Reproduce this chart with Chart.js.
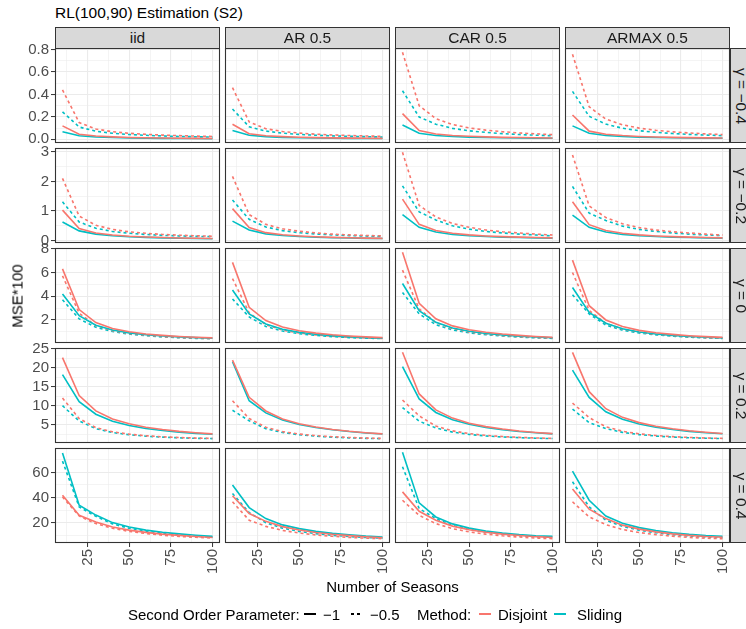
<!DOCTYPE html>
<html><head><meta charset="utf-8">
<script src="https://cdn.jsdelivr.net/npm/chart.js@4/dist/chart.umd.min.js"></script>
<style>
html,body{margin:0;padding:0;background:#fff;overflow:hidden;}
#root{position:relative;width:746px;height:629px;overflow:hidden;font-family:"Liberation Sans",Arial,Helvetica,sans-serif;color:#000;}
.pc{position:absolute;}
.strip{position:absolute;background:#D9D9D9;border:1px solid #333;box-sizing:border-box;color:#1A1A1A;font-size:15.5px;display:flex;align-items:center;justify-content:center;white-space:nowrap;}
.rot90{transform:rotate(90deg);display:inline-block;}
.txt{position:absolute;white-space:nowrap;}
.key{position:absolute;height:0;}
</style></head>
<body><div id="root"></div>
<script>
// ---------------- data ----------------
const seasons = [10,20,30,40,50,60,70,80,90,100];
const columnLabels = ['iid','AR 0.5','CAR 0.5','ARMAX 0.5'];
const rowLabels = ['γ = −0.4','γ = −0.2','γ = 0','γ = 0.2','γ = 0.4'];
const xTickValues = [25,50,75,100];
const yTickValues = [[0,0.2,0.4,0.6,0.8],[0,1,2,3],[2,4,6,8],[5,10,15,20,25],[20,40,60]];
const yTickDecimals = [1,0,0,0,0];
const methodNames = ['Disjoint','Sliding'];
const secondOrderNames = ['−1','−0.5'];

// each array: one series per column (iid, AR 0.5, CAR 0.5, ARMAX 0.5), values at seasons
// gamma = -0.4
const gm04_disjoint_m1 = [
 [0.120,0.045,0.030,0.022,0.017,0.014,0.012,0.010,0.009,0.008],
 [0.135,0.050,0.032,0.024,0.019,0.015,0.013,0.011,0.010,0.009],
 [0.229,0.078,0.048,0.035,0.027,0.022,0.018,0.016,0.014,0.012],
 [0.217,0.073,0.046,0.034,0.026,0.021,0.018,0.015,0.013,0.012]];
const gm04_sliding_m1 = [
 [0.068,0.032,0.021,0.016,0.013,0.011,0.009,0.008,0.007,0.006],
 [0.078,0.037,0.024,0.018,0.014,0.012,0.010,0.009,0.008,0.007],
 [0.127,0.055,0.035,0.026,0.020,0.016,0.014,0.012,0.011,0.010],
 [0.120,0.055,0.035,0.026,0.020,0.016,0.014,0.012,0.011,0.010]];
const gm04_disjoint_m05 = [
 [0.440,0.150,0.092,0.068,0.054,0.045,0.038,0.033,0.029,0.026],
 [0.460,0.155,0.095,0.070,0.056,0.046,0.039,0.034,0.030,0.027],
 [0.775,0.300,0.185,0.132,0.102,0.082,0.068,0.057,0.049,0.042],
 [0.757,0.290,0.180,0.130,0.100,0.081,0.067,0.057,0.049,0.042]];
const gm04_sliding_m05 = [
 [0.245,0.110,0.072,0.054,0.043,0.036,0.030,0.026,0.023,0.020],
 [0.270,0.112,0.074,0.055,0.044,0.037,0.031,0.027,0.024,0.021],
 [0.433,0.199,0.135,0.098,0.076,0.062,0.051,0.043,0.037,0.032],
 [0.427,0.205,0.136,0.099,0.077,0.063,0.052,0.044,0.038,0.033]];
// gamma = -0.2
const gm02_disjoint_m1 = [
 [1.03,0.41,0.26,0.19,0.15,0.125,0.105,0.092,0.082,0.074],
 [1.08,0.44,0.27,0.20,0.16,0.13,0.11,0.097,0.086,0.078],
 [1.40,0.55,0.34,0.25,0.195,0.16,0.135,0.118,0.105,0.095],
 [1.31,0.54,0.34,0.25,0.195,0.16,0.135,0.118,0.105,0.095]];
const gm02_sliding_m1 = [
 [0.63,0.33,0.22,0.165,0.13,0.11,0.095,0.083,0.074,0.067],
 [0.66,0.36,0.23,0.175,0.14,0.115,0.10,0.088,0.078,0.071],
 [0.88,0.45,0.29,0.21,0.17,0.14,0.12,0.105,0.093,0.085],
 [0.86,0.45,0.29,0.21,0.17,0.14,0.12,0.105,0.093,0.085]];
const gm02_disjoint_m05 = [
 [2.10,0.83,0.52,0.38,0.30,0.25,0.21,0.185,0.165,0.15],
 [2.17,0.88,0.55,0.40,0.32,0.26,0.22,0.195,0.175,0.16],
 [2.98,1.19,0.80,0.58,0.45,0.36,0.30,0.26,0.22,0.19],
 [2.89,1.17,0.78,0.57,0.44,0.36,0.30,0.26,0.22,0.19]];
const gm02_sliding_m05 = [
 [1.31,0.63,0.42,0.31,0.25,0.21,0.18,0.16,0.145,0.135],
 [1.37,0.72,0.46,0.34,0.27,0.225,0.195,0.17,0.155,0.14],
 [1.85,0.97,0.70,0.50,0.39,0.31,0.26,0.22,0.19,0.16],
 [1.83,0.93,0.68,0.49,0.38,0.31,0.26,0.22,0.19,0.17]];
// gamma = 0
const g0_disjoint_m1 = [
 [6.30,2.87,1.78,1.28,1.00,0.82,0.70,0.61,0.54,0.49],
 [6.85,3.06,1.95,1.40,1.09,0.89,0.75,0.65,0.57,0.51],
 [7.70,3.40,2.10,1.50,1.17,0.96,0.81,0.70,0.61,0.54],
 [7.04,3.20,2.00,1.44,1.12,0.92,0.78,0.67,0.59,0.53]];
const g0_sliding_m1 = [
 [4.18,2.36,1.56,1.15,0.91,0.76,0.65,0.57,0.51,0.46],
 [4.52,2.51,1.66,1.22,0.96,0.79,0.68,0.59,0.52,0.47],
 [5.07,2.78,1.80,1.32,1.04,0.86,0.73,0.63,0.56,0.50],
 [4.74,2.64,1.72,1.26,0.99,0.82,0.70,0.61,0.54,0.49]];
const g0_disjoint_m05 = [
 [5.72,2.56,1.52,1.10,0.86,0.71,0.60,0.52,0.46,0.43],
 [5.49,2.60,1.60,1.15,0.90,0.74,0.63,0.54,0.48,0.44],
 [6.20,2.93,1.78,1.27,0.99,0.81,0.68,0.59,0.52,0.47],
 [6.00,2.80,1.72,1.23,0.96,0.79,0.67,0.58,0.51,0.46]];
const g0_sliding_m05 = [
 [3.71,2.09,1.38,1.02,0.81,0.67,0.57,0.50,0.45,0.42],
 [3.77,2.25,1.45,1.06,0.84,0.69,0.59,0.51,0.46,0.43],
 [4.32,2.51,1.60,1.16,0.91,0.75,0.64,0.56,0.49,0.45],
 [4.13,2.50,1.57,1.14,0.90,0.74,0.63,0.55,0.49,0.44]];
// gamma = 0.2
const gp02_disjoint_m1 = [
 [22.7,12.66,8.63,6.50,5.20,4.32,3.70,3.22,2.85,2.55],
 [22.05,12.2,8.60,6.50,5.22,4.35,3.72,3.24,2.86,2.56],
 [24.1,13.1,8.90,6.72,5.38,4.47,3.82,3.32,2.93,2.62],
 [24.1,13.7,9.20,6.92,5.52,4.57,3.89,3.37,2.96,2.64]];
const gp02_sliding_m1 = [
 [18.2,11.05,7.74,5.90,4.76,3.98,3.43,3.00,2.68,2.45],
 [21.6,11.3,8.10,6.22,5.04,4.22,3.62,3.16,2.80,2.52],
 [20.3,11.8,8.20,6.28,5.08,4.25,3.65,3.19,2.83,2.55],
 [19.4,12.2,8.40,6.42,5.18,4.32,3.70,3.22,2.85,2.57]];
const gp02_disjoint_m05 = [
 [12.0,6.60,4.20,3.10,2.48,2.06,1.78,1.58,1.44,1.35],
 [11.3,6.6,4.30,3.14,2.50,2.08,1.79,1.59,1.44,1.34],
 [11.5,7.3,4.62,3.34,2.62,2.16,1.85,1.63,1.47,1.36],
 [10.7,6.85,4.42,3.24,2.56,2.12,1.82,1.61,1.46,1.36]];
const gp02_sliding_m05 = [
 [10.0,5.94,3.92,2.90,2.32,1.94,1.68,1.50,1.38,1.30],
 [8.8,6.0,3.92,2.90,2.32,1.94,1.68,1.50,1.37,1.28],
 [9.5,5.9,4.12,3.02,2.40,2.00,1.73,1.54,1.40,1.31],
 [9.1,5.5,3.96,2.95,2.36,1.97,1.71,1.53,1.40,1.31]];
// gamma = 0.4
const gp04_disjoint_m1 = [
 [41.8,25.8,20.5,16.5,14.0,12.2,10.8,9.8,8.9,8.2],
 [41.4,27.2,21.0,16.8,14.1,12.1,10.7,9.6,8.7,8.0],
 [44.5,29.0,21.9,17.2,14.3,12.3,10.8,9.7,8.8,8.2],
 [46.7,30.7,23.2,18.0,14.8,12.6,11.0,9.8,8.9,8.3]];
const gp04_sliding_m1 = [
 [75.4,33.8,26.0,20.0,16.5,14.0,12.3,11.0,9.9,9.0],
 [49.9,32.0,23.2,18.2,15.2,13.0,11.4,10.2,9.2,8.5],
 [76.0,35.7,24.5,19.0,15.6,13.3,11.6,10.4,9.5,9.0],
 [61.0,37.8,25.3,19.5,16.0,13.6,11.9,10.6,9.7,9.1]];
const gp04_disjoint_m05 = [
 [40.5,25.3,19.2,15.5,13.0,11.3,10.0,9.0,8.3,7.7],
 [36.6,21.9,17.0,13.8,11.7,10.2,9.1,8.2,7.6,7.2],
 [37.8,25.8,19.2,15.2,12.6,10.8,9.5,8.5,7.7,7.2],
 [36.6,24.5,18.4,14.5,12.1,10.4,9.2,8.2,7.6,7.2]];
const gp04_sliding_m05 = [
 [69.0,32.5,25.0,19.0,15.5,13.2,11.5,10.2,9.1,8.3],
 [43.2,28.0,19.9,15.6,13.0,11.2,9.9,8.9,8.1,7.6],
 [64.5,31.2,23.2,17.8,14.6,12.4,10.8,9.6,8.7,8.1],
 [52.5,32.5,21.9,17.0,14.0,11.9,10.4,9.3,8.5,7.9]];

// ---------------- build ----------------
const rowSeries = [
 [gm04_disjoint_m1, gm04_sliding_m1, gm04_disjoint_m05, gm04_sliding_m05],
 [gm02_disjoint_m1, gm02_sliding_m1, gm02_disjoint_m05, gm02_sliding_m05],
 [g0_disjoint_m1, g0_sliding_m1, g0_disjoint_m05, g0_sliding_m05],
 [gp02_disjoint_m1, gp02_sliding_m1, gp02_disjoint_m05, gp02_sliding_m05],
 [gp04_disjoint_m1, gp04_sliding_m1, gp04_disjoint_m05, gp04_sliding_m05]];
const seriesStyle = [
 {color:'#F8766D', dash:[]}, {color:'#00BFC4', dash:[]},
 {color:'#F8766D', dash:[3,3]}, {color:'#00BFC4', dash:[3,3]}];
const seriesNames = ['Disjoint −1','Sliding −1','Disjoint −0.5','Sliding −0.5'];

Chart.defaults.font.family = '"Liberation Sans", Arial, Helvetica, sans-serif';
const root = document.getElementById('root');
const PX = [55,225,395,565], PY = [48,148,248,348,448], PW = 165, PH = 95;
const M = 12, PADL = 55, PADB = 40;

// ggplot-style 5% expansion of the row's data range (free y scale per row)
function expandLimits(seriesList){
  let lo = Infinity, hi = -Infinity;
  seriesList.forEach(series => series.forEach(col => col.forEach(v => {lo = Math.min(lo,v); hi = Math.max(hi,v);})));
  const r = hi - lo; return [lo - 0.05*r, hi + 0.05*r];
}
function withMinors(majors, lo, hi){
  const step = majors[1]-majors[0];
  const all = majors.map(v => ({value:v, major:true}));
  for (let i = -1; i < majors.length; i++) {
    const v = +(majors[0] + step*(i+0.5)).toFixed(6);
    all.push({value:v, major:false});
  }
  return all.filter(t => t.value >= lo - 1e-9 && t.value <= hi + 1e-9).sort((a,b)=>a.value-b.value);
}
const xLo = 5.5, xHi = 104.5;
const xTicksAll = withMinors(xTickValues, xLo, xHi);

const framePlugin = {
  id:'frame',
  beforeDraw(chart){ const a = chart.chartArea, ctx = chart.ctx; ctx.save(); ctx.fillStyle='#fff'; ctx.fillRect(a.left,a.top,a.right-a.left,a.bottom-a.top); ctx.restore(); },
  afterDraw(chart){ const a = chart.chartArea, ctx = chart.ctx; ctx.save(); ctx.strokeStyle='#333333'; ctx.lineWidth=1.1; ctx.strokeRect(a.left+0.5,a.top+0.5,a.right-a.left-1,a.bottom-a.top-1); ctx.restore(); }
};

function isMajor(list, v){ return list.some(m => Math.abs(m - v) < 1e-9); }

function makePanel(r, c){
  const showY = c === 0, showX = r === 4;
  const [yLo, yHi] = expandLimits(rowSeries[r]);
  const yTicksAll = withMinors(yTickValues[r], yLo, yHi);
  const left = PX[c] - (showY ? PADL : M), top = PY[r] - M;
  const w = PW + (showY ? PADL : M) + M, h = PH + M + (showX ? PADB : M);
  const div = document.createElement('div');
  div.className = 'pc'; div.style.left = left+'px'; div.style.top = top+'px';
  div.style.width = w+'px'; div.style.height = h+'px';
  const cv = document.createElement('canvas'); cv.width = w; cv.height = h;
  cv.style.width = w+'px'; cv.style.height = h+'px';
  div.appendChild(cv); root.appendChild(div);
  const datasets = rowSeries[r].map((arr, k) => ({
    label: seriesNames[k],
    data: seasons.map((s, i) => ({x:s, y:arr[c][i]})),
    borderColor: seriesStyle[k].color, borderDash: seriesStyle[k].dash,
    borderWidth: 1.6, pointRadius: 0, tension: 0, fill: false, borderCapStyle:'butt'
  }));
  new Chart(cv, {
    type:'line',
    data:{datasets},
    plugins:[framePlugin],
    options:{
      responsive:false, animation:false, devicePixelRatio:1,
      layout:{padding:{left: showY?0:M, right:M, top:M, bottom: showX?0:M}},
      plugins:{legend:{display:false}, tooltip:{enabled:false}},
      scales:{
        x:{type:'linear', min:xLo, max:xHi,
          afterBuildTicks: s => { s.ticks = xTicksAll.map(t => ({value:t.value})); },
          afterFit: s => { s.height = showX ? PADB : 0; s.paddingLeft=0; s.paddingRight=0; s.paddingTop=0; s.paddingBottom=0; },
          ticks:{display:showX, autoSkip:false, minRotation:90, maxRotation:90, padding:2, color:'#4D4D4D', font:{size:15},
            callback: v => isMajor(xTickValues, v) ? String(v) : ''},
          grid:{color:'#EBEBEB', lineWidth: ctx => (ctx.tick && isMajor(xTickValues, ctx.tick.value)) ? 1.1 : 0.55,
            drawTicks: showX, tickLength:4, tickWidth:1,
            tickColor: ctx => (ctx.tick && isMajor(xTickValues, ctx.tick.value)) ? '#333333' : 'rgba(0,0,0,0)'},
          border:{display:false}},
        y:{type:'linear', min:yLo, max:yHi,
          afterBuildTicks: s => { s.ticks = yTicksAll.map(t => ({value:t.value})); },
          afterFit: s => { s.width = showY ? PADL : 0; s.paddingTop=0; s.paddingBottom=0; s.paddingLeft=0; s.paddingRight=0; },
          ticks:{display:showY, autoSkip:false, padding:2, color:'#4D4D4D', font:{size:15},
            callback: v => isMajor(yTickValues[r], v) ? Number(v).toFixed(yTickDecimals[r]) : ''},
          grid:{color:'#EBEBEB', lineWidth: ctx => (ctx.tick && isMajor(yTickValues[r], ctx.tick.value)) ? 1.1 : 0.55,
            drawTicks: showY, tickLength:4, tickWidth:1,
            tickColor: ctx => (ctx.tick && isMajor(yTickValues[r], ctx.tick.value)) ? '#333333' : 'rgba(0,0,0,0)'},
          border:{display:false}}
      }
    }
  });
}
for (let r = 0; r < 5; r++) for (let c = 0; c < 4; c++) makePanel(r, c);

// strips
columnLabels.forEach((lab, c) => {
  const d = document.createElement('div'); d.className='strip';
  d.style.left = PX[c]+'px'; d.style.top = '27px'; d.style.width = PW+'px'; d.style.height = '22px';
  d.textContent = lab; root.appendChild(d);
});
rowLabels.forEach((lab, r) => {
  const d = document.createElement('div'); d.className='strip';
  d.style.left = '730px'; d.style.top = PY[r]+'px'; d.style.width = '22px'; d.style.height = PH+'px';
  const s = document.createElement('span'); s.className='rot90'; s.textContent = lab; d.appendChild(s);
  root.appendChild(d);
});

function addText(txt, x, y, size, opts){
  const d = document.createElement('div'); d.className='txt'; d.textContent = txt;
  d.style.fontSize = size+'px'; d.style.left = x+'px'; d.style.top = y+'px';
  d.style.transform = (opts && opts.transform) || 'translate(0,-50%)';
  if (opts && opts.color) d.style.color = opts.color;
  root.appendChild(d); return d;
}
addText('RL(100,90) Estimation (S2)', 55, 13, 15.5);
addText('MSE*100', 17, 296, 15, {transform:'translate(-50%,-50%) rotate(-90deg)'});
addText('Number of Seasons', 392.5, 586, 15, {transform:'translate(-50%,-50%)'});

// legend
addText('Second Order Parameter:', 128, 614, 15);
function addKey(x, color, dashed){
  const k = document.createElement('div'); k.className='key';
  k.style.left = x+'px'; k.style.top = '613px'; k.style.width='12px';
  k.style.borderTop = '2px solid '+color;
  if (dashed) { k.style.borderTop='none'; k.style.height='2px';
    k.style.background = 'repeating-linear-gradient(90deg,'+color+' 0 3px,transparent 3px 6px)'; }
  root.appendChild(k);
}
addKey(304, '#000', false);
addText(secondOrderNames[0], 323, 614, 15);
addKey(351, '#000', true);
addText(secondOrderNames[1], 370, 614, 15);
addText('Method:', 417, 614, 15);
addKey(479, '#F8766D', false);
addText(methodNames[0], 498, 614, 15);
addKey(554, '#00BFC4', false);
addText(methodNames[1], 577, 614, 15);
</script>
</body></html>
